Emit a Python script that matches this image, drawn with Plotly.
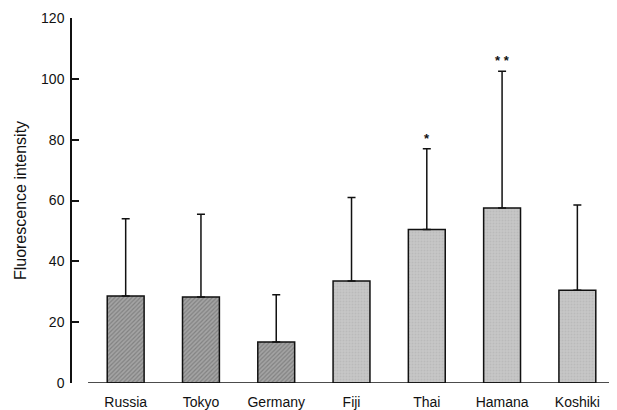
import plotly.graph_objects as go

categories = ["Russia", "Tokyo", "Germany", "Fiji", "Thai", "Hamana", "Koshiki"]
means = [28.6, 28.3, 13.5, 33.5, 50.5, 57.5, 30.5]
sd_upper = [54.0, 55.5, 29.0, 61.0, 77.0, 102.5, 58.5]
significance = ["", "", "", "", "*", "* *", ""]
dark_group = ["Russia", "Tokyo", "Germany"]
y_ticks = [0, 20, 40, 60, 80, 100, 120]

errs = [u - m for u, m in zip(sd_upper, means)]
xs = list(range(len(categories)))

fig = go.Figure()
dark_idx = [i for i, c in enumerate(categories) if c in dark_group]
light_idx = [i for i, c in enumerate(categories) if c not in dark_group]

fig.add_trace(go.Bar(
    x=[xs[i] for i in dark_idx], y=[means[i] for i in dark_idx],
    width=0.49,
    marker=dict(color="#9a9a9a", line=dict(color="#111", width=1.5),
                pattern=dict(shape="/", fgcolor="#5e5e5e", bgcolor="#a4a4a4", size=3, solidity=0.4)),
    error_y=dict(type="data", symmetric=False, array=[errs[i] for i in dark_idx],
                 arrayminus=[0] * len(dark_idx), color="#111", thickness=1.5, width=4),
    showlegend=False,
))
fig.add_trace(go.Bar(
    x=[xs[i] for i in light_idx], y=[means[i] for i in light_idx],
    width=0.49,
    marker=dict(color="#c2c2c2", line=dict(color="#111", width=1.5),
                pattern=dict(shape=".", fgcolor="#adadad", bgcolor="#c6c6c6", size=3, solidity=0.3)),
    error_y=dict(type="data", symmetric=False, array=[errs[i] for i in light_idx],
                 arrayminus=[0] * len(light_idx), color="#111", thickness=1.5, width=4),
    showlegend=False,
))

for i, s in enumerate(significance):
    if s:
        fig.add_annotation(x=xs[i], y=sd_upper[i], text="<b>" + s + "</b>", showarrow=False,
                           yanchor="bottom", yshift=1, font=dict(size=13, color="#111"))

# x baseline (detached from y axis)
fig.add_shape(type="line", xref="x", yref="y", x0=-0.5, x1=6.5, y0=0, y1=0,
              line=dict(color="#111", width=1.5))

fig.update_layout(
    width=609, height=402,
    margin=dict(l=64, r=2, t=10, b=27, autoexpand=False),
    paper_bgcolor="white", plot_bgcolor="white",
    font=dict(family="Liberation Sans, Arial, sans-serif", color="#111", size=13),
    bargap=0.5,
)
fig.update_xaxes(
    range=[-0.713, 6.5], tickmode="array", tickvals=xs, ticktext=categories,
    showline=False, showgrid=False, zeroline=False, ticks="",
    tickfont=dict(size=14), automargin=False, ticklabelstandoff=9,
)
fig.update_yaxes(
    range=[0, 120], tickmode="array", tickvals=y_ticks,
    showline=True, linecolor="#111", linewidth=1.5,
    ticks="inside", ticklen=7, tickwidth=1.5, tickcolor="#111",
    showgrid=False, zeroline=False, automargin=False,
    tickfont=dict(size=14), ticklabelstandoff=3,
    title=dict(text="Fluorescence intensity", font=dict(size=16), standoff=10),
)

fig.write_html("out.html")
